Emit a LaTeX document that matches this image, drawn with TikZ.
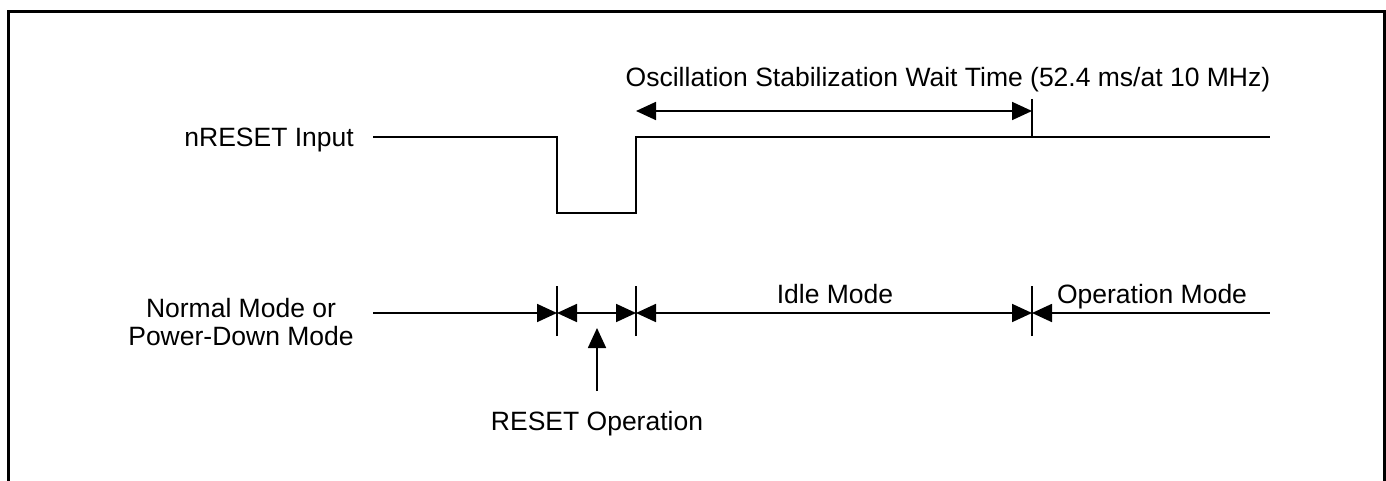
\documentclass[tikz,border=0pt]{standalone}
\usepackage{fontspec}
\setmainfont{Liberation Sans}
\usetikzlibrary{arrows.meta}
\begin{document}
\begin{tikzpicture}[x=1pt,y=-1pt,
  sig/.style={line width=2pt},
  tri/.tip={Triangle[length=20pt,width=18pt]},
  dim/.style={line width=1.8pt,tri-tri},
  lbl/.style={font=\fontsize{26.5}{31}\selectfont,inner sep=0pt,anchor=base},
  tick/.style={line width=1.8pt}]
\useasboundingbox (0,0) rectangle (1386,481);
\draw[line width=3pt] (8,481) -- (8,12) -- (1384,12) -- (1384,481);
% nRESET signal
\coordinate (s0) at (373,137);
\coordinate (s1) at (557,137);
\coordinate (s2) at (557,213);
\coordinate (s3) at (636,213);
\coordinate (s4) at (636,137);
\coordinate (s5) at (1270,137);
\draw[sig] (s0) -- (s1) -- (s2) -- (s3) -- (s4) -- (s5);
\node[lbl,anchor=base east] (nres) at (354,147) {nRESET Input};
% oscillation wait
\coordinate (w0) at (636,111);
\coordinate (w1) at (1032,111);
\coordinate (wt0) at (1032,99);
\coordinate (wt1) at (1032,137);
\draw[tick] (wt0) -- (wt1);
\draw[dim] (w0) -- (w1);
\node[lbl] (osc) at (948,87) {Oscillation Stabilization Wait Time (52.4 ms/at 10 MHz)};
% mode line
\coordinate (m0) at (373,313);
\coordinate (m1) at (557,313);
\coordinate (m2) at (636,313);
\coordinate (m3) at (1032,313);
\coordinate (m4) at (1270,313);
\foreach \c in {m1,m2,m3}{\draw[tick] ([yshift=-23pt]\c) -- ([yshift=27pt]\c);}
\draw[line width=1.8pt,-tri] (m0) -- (m1);
\draw[dim] (m1) -- (m2);
\draw[dim] (m2) -- (m3);
\draw[line width=1.8pt,tri-] (m3) -- (m4);
\node[lbl] (norm1) at (241,317) {Normal Mode or};
\node[lbl] (norm2) at (241,345) {Power-Down Mode};
\node[lbl] (idle) at (835,303) {Idle Mode};
\node[lbl] (op) at (1152,303) {Operation Mode};
% reset operation
\coordinate (r0) at (597,391);
\coordinate (r1) at (597,328);
\draw[line width=1.8pt,-tri] (r0) -- (r1);
\node[lbl] (rop) at (597,430) {RESET Operation};
\end{tikzpicture}
\end{document}
